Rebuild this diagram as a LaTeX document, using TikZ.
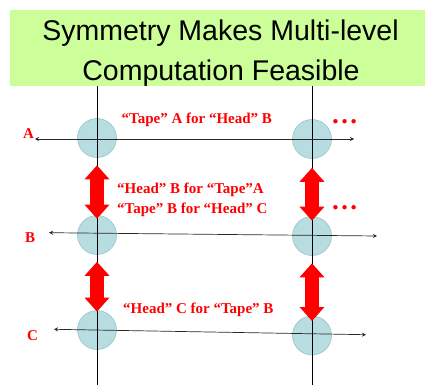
\documentclass[tikz,border=0pt]{standalone}
\usepackage{fontspec}
\setmainfont{Liberation Serif}
\newfontfamily\titlefont{Liberation Sans}
\usetikzlibrary{arrows.meta}
\definecolor{titlegreen}{RGB}{204,255,153}
\definecolor{circfill}{RGB}{183,221,225}
\definecolor{circedge}{RGB}{150,195,200}
\definecolor{lblred}{RGB}{255,0,0}
\definecolor{linegray}{RGB}{40,40,40}
\tikzset{
  cnode/.style={circle, fill=circfill, draw=circedge, line width=0.6pt, minimum size=39pt, inner sep=0pt},
  titletext/.style={font=\titlefont\fontsize{28.5}{30}\selectfont, text=black, anchor=base, inner sep=0pt},
  redtext/.style={font=\bfseries\fontsize{15}{17}\selectfont, text=lblred, anchor=base west, inner sep=0pt},
  axisline/.style={draw=linegray, line width=0.7pt, {Stealth[length=4pt,width=4pt]}-{Stealth[length=4pt,width=4pt]}},
  vline/.style={draw=black, line width=0.8pt},
  blockarrow/.style={draw=red, line width=14pt, {Triangle[length=14pt,width=24pt]}-{Triangle[length=14pt,width=24pt]}},
}
\begin{document}
\begin{tikzpicture}[x=1pt,y=-1pt]
\useasboundingbox (0,0) rectangle (425,385);
% title
\node[fill=titlegreen, minimum width=415pt, minimum height=76pt, anchor=north west, inner sep=0pt] (titlebox) at (10,10) {};
\node[titletext] (t1) at (220.5,41) {Symmetry Makes Multi-level};
\node[titletext] (t2) at (221,81) {Computation Feasible};
% circles
\node[cnode] (cA1) at (97,138) {};
\node[cnode] (cB1) at (97,235) {};
\node[cnode] (cC1) at (97,330) {};
\node[cnode] (cA2) at (312,139) {};
\node[cnode] (cB2) at (312,236) {};
\node[cnode] (cC2) at (312,335.5) {};
% vertical lines
\coordinate (v1t) at (97,86);
\coordinate (v1b) at (97,385);
\coordinate (v2t) at (312,86);
\coordinate (v2b) at (312,385);
\draw[vline] (v1t) -- (v1b);
\draw[vline] (v2t) -- (v2b);
% horizontal lines
\coordinate (aL) at (35,139);
\coordinate (aR) at (354,139);
\coordinate (bL) at (49,232.7);
\coordinate (bR) at (377,236);
\coordinate (cL) at (54,329.3);
\coordinate (cR) at (366,334.7);
\draw[axisline] (aL) -- (aR);
\draw[axisline] (bL) -- (bR);
\draw[axisline] (cL) -- (cR);
% red block arrows
\draw[blockarrow] ([yshift=-7.5pt]cA1.south) -- ([yshift=-3.5pt]cB1.north);
\draw[blockarrow] ([yshift=-7pt]cB1.south) -- ([yshift=-1.5pt]cC1.north);
\draw[blockarrow] ([yshift=-9pt]cA2.south) -- ([yshift=-4.5pt]cB2.north);
\draw[blockarrow] ([yshift=-7.5pt]cB2.south) -- ([yshift=-5.3pt]cC2.north);
% labels
\node[redtext] (lA) at (23,138) {A};
\node[redtext] (lB) at (25,242) {B};
\node[redtext] (lC) at (27,340) {C};
\node[redtext] (txA) at (121.5,124) {“Tape” A for “Head” B};
\node[redtext] (txB1) at (117,193) {“Head” B for “Tape”A};
\node[redtext] (txB2) at (117,213) {“Tape” B for “Head” C};
\node[redtext] (txC) at (123,313) {“Head” C for “Tape” B};
\node[redtext, font=\bfseries\fontsize{27}{27}\selectfont] (dots1) at (331,124) {…};
\node[redtext, font=\bfseries\fontsize{27}{27}\selectfont] (dots2) at (331,209) {…};
\end{tikzpicture}
\end{document}
